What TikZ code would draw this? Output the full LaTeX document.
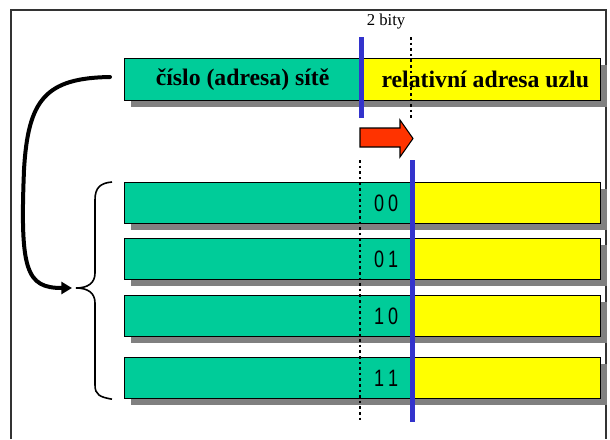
\documentclass[tikz,border=0pt]{standalone}
\usepackage{fontspec}
\setmainfont{Liberation Serif}
\newfontfamily\digitfont{Liberation Sans}[FakeStretch=0.76]
\usetikzlibrary{shadows,arrows.meta}
\definecolor{netgreen}{RGB}{0,204,153}
\definecolor{hostyellow}{RGB}{255,255,0}
\definecolor{splitblue}{RGB}{51,51,204}
\definecolor{shiftred}{RGB}{255,51,0}
\definecolor{shadowgrey}{RGB}{128,128,128}
\begin{document}
\begin{tikzpicture}[x=0.75pt,y=-0.75pt,
  field/.style={draw=black, line width=0.9pt, inner sep=0pt, anchor=north west,
    drop shadow={shadow xshift=4.5pt, shadow yshift=-4.5pt, fill=shadowgrey, opacity=1}},
  netfield/.style={field, fill=netgreen},
  hostfield/.style={field, fill=hostyellow},
  toplabel/.style={font=\fontsize{17.8}{20}\selectfont\bfseries},
  bitpair/.style={font=\digitfont\fontsize{17.8}{20}\selectfont, inner sep=0pt},
  splitline/.style={draw=splitblue, line width=3.75pt},
  bitline/.style={draw=black, line width=2pt, dash pattern=on 2pt off 2.2pt},
  bracket/.style={draw=black, line width=1.2pt},
  carry/.style={draw=black, line width=3pt, -{Triangle[length=8pt,width=9pt]}}
]
\useasboundingbox (0,0) rectangle (610,439);
% frame
\draw[black!80, line width=0.8pt] (11,439) -- (11,10) -- (606,10) -- (606,439);

% address split into network and host part
\node[netfield, minimum width=177pt, minimum height=31.5pt, toplabel] (tg) at (124,58) {číslo (adresa) sítě};
\node[hostfield, minimum width=180pt, minimum height=31.5pt, toplabel] (ty) at (360,58) {\hspace*{7pt}relativní adresa uzlu};
\draw[splitline] (361,37) -- (361,118);
\draw[bitline] (411,37) -- (411,118);
\node[font=\fontsize{12.5}{14}\selectfont, inner sep=0pt] (bits) at (386,22) {2 bity};

% shift of the boundary
\draw[fill=shiftred, line width=0.8pt, line join=miter]
  (360,128) -- (400,128) -- (400,120) -- (413,138.5) -- (400,157) -- (400,147) -- (360,147) -- cycle;

% the four subnets
\foreach \i/\yy/\bits in {1/182/0\hspace{3pt}0, 2/238/0\hspace{3pt}1, 3/295/1\hspace{3pt}0, 4/357/1\hspace{3pt}1}{
  \node[netfield, minimum width=216pt, minimum height=30.75pt] (g\i) at (124,\yy) {};
  \node[hostfield, minimum width=141pt, minimum height=30.75pt] (y\i) at (412,\yy) {};
  \node[bitpair] (d\i) at ([xshift=-20.25pt]g\i.east) {\bits};
}
\draw[bitline] (360,160) -- (360,420);
\draw[splitline] (412,160) -- (412,422);

% brace grouping the subnets
\coordinate (bt) at (76,288);
\draw[bracket] ([xshift=-9pt]g1.north west) .. controls (100,183) and (95,188) .. (95,200)
  -- (95,273) .. controls (95,283) and (88,288) .. (bt)
  .. controls (88,288) and (95,293) .. (95,303)
  -- (95,385) .. controls (95,395) and (100,397) .. ([xshift=-9pt]g4.south west);

% network number turned into subnets
\coordinate (src) at (110,77);
\draw[carry, line cap=round] (src) .. controls (45,78) and (28,100) .. (24,170)
  .. controls (20,270) and (26,288) .. ([xshift=-3pt]bt);
\end{tikzpicture}
\end{document}
